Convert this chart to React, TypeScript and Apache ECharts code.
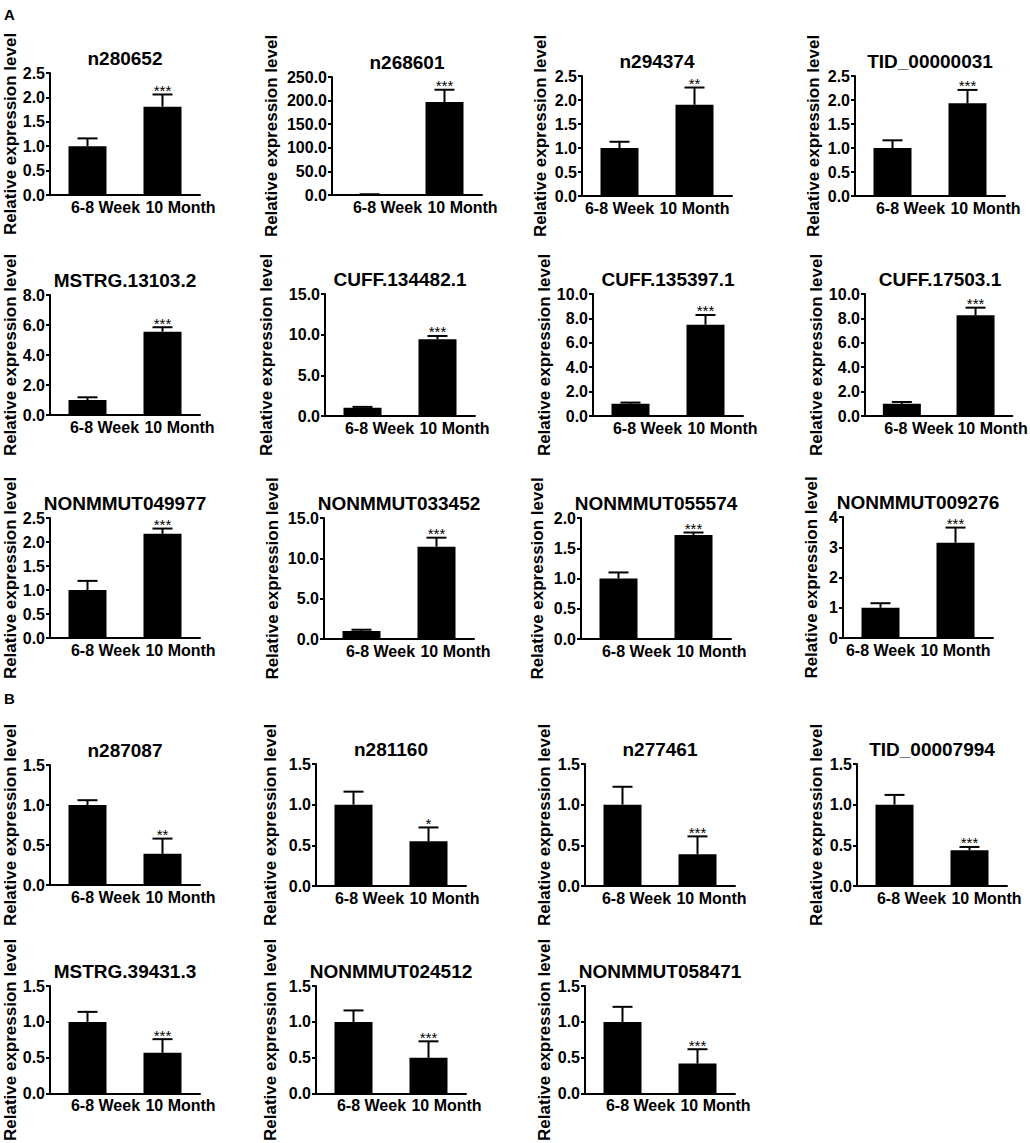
import React, { useEffect, useRef } from "react";
import * as echarts from "echarts";

// ---------- data ----------
const titles = [
  "n280652", "n268601", "n294374", "TID_00000031",
  "MSTRG.13103.2", "CUFF.134482.1", "CUFF.135397.1", "CUFF.17503.1",
  "NONMMUT049977", "NONMMUT033452", "NONMMUT055574", "NONMMUT009276",
  "n287087", "n281160", "n277461", "TID_00007994",
  "MSTRG.39431.3", "NONMMUT024512", "NONMMUT058471",
];
const categories = ["6-8 Week", "10 Month"];
const weekMeans = [1.0, 1.0, 1.0, 1.0, 1.0, 1.0, 1.0, 1.0, 1.0, 1.0, 1.0, 1.0, 1.0, 1.0, 1.0, 1.0, 1.0, 1.0, 1.0];
const weekErr = [0.16, 0.6, 0.13, 0.16, 0.18, 0.12, 0.1, 0.15, 0.19, 0.15, 0.1, 0.15, 0.06, 0.16, 0.22, 0.12, 0.14, 0.16, 0.21];
const monthMeans = [1.81, 197, 1.9, 1.93, 5.55, 9.43, 7.48, 8.25, 2.17, 11.44, 1.72, 3.15, 0.39, 0.55, 0.39, 0.44, 0.57, 0.5, 0.42];
const monthErr = [0.25, 26, 0.36, 0.28, 0.3, 0.41, 0.8, 0.63, 0.11, 1.12, 0.04, 0.5, 0.19, 0.17, 0.22, 0.04, 0.19, 0.23, 0.2];
const significance = [
  "***", "***", "**", "***",
  "***", "***", "***", "***",
  "***", "***", "***", "***",
  "**", "*", "***", "***",
  "***", "***", "***",
];
const yMax = [2.5, 250, 2.5, 2.5, 8, 15, 10, 10, 2.5, 15, 2, 4, 1.5, 1.5, 1.5, 1.5, 1.5, 1.5, 1.5];
const yStep = [0.5, 50, 0.5, 0.5, 2, 5, 2, 2, 0.5, 5, 0.5, 1, 0.5, 0.5, 0.5, 0.5, 0.5, 0.5, 0.5];
const yDecimals = [1, 1, 1, 1, 1, 1, 1, 1, 1, 1, 1, 0, 1, 1, 1, 1, 1, 1, 1];
const yAxisName = "Relative expression level";
const sectionLabels = ["A", "B"];

// ---------- layout ----------
const lefts = [50, 332, 582, 855, 50, 325, 593, 865, 50, 324, 581, 843, 50, 316, 585, 857, 50, 316, 585];
const tops = [73, 77, 76, 76, 295, 294, 294, 294, 518, 518, 518, 517, 765, 764, 764, 764, 986, 986, 986];
const bottoms = [195, 195, 196, 196, 415, 416, 416, 416, 638, 639, 639, 638, 885, 886, 886, 886, 1107, 1107, 1107];
const nameXs = [12, 272, 541, 814, 12, 267, 546, 817, 12, 273, 538, 812, 12, 271, 545, 817, 12, 271, 545];
const labelShift = [18, 18, 0, 18, 17, 17, 17, 17, 18, 19, 18, 0, 18, 16, 14, 17, 18, 18, 18];
const sectionPos = [[4, 7], [4, 691]];
const PLOT_W = 150;
const BAR_W = 38;
const FONT = '"Liberation Sans", Arial, Helvetica, sans-serif';

function buildOption() {
  const grid: any[] = [];
  const xAxis: any[] = [];
  const yAxis: any[] = [];
  const series: any[] = [];
  const graphic: any[] = [];

  titles.forEach((title, i) => {
    const h = bottoms[i] - tops[i];
    grid.push({ left: lefts[i], top: tops[i], width: PLOT_W, height: h, containLabel: false });
    xAxis.push({
      type: "category",
      gridIndex: i,
      data: categories,
      axisLine: { show: true, lineStyle: { color: "#000", width: 2 } },
      axisTick: { show: false },
      axisLabel: {
        interval: 0,
        color: "#000",
        fontWeight: "bold",
        fontSize: 16,
        fontFamily: FONT,
        margin: 4,
        padding: [0, 0, 0, labelShift[i] * 2],
      },
      splitLine: { show: false },
    });
    yAxis.push({
      type: "value",
      gridIndex: i,
      min: 0,
      max: yMax[i],
      interval: yStep[i],
      axisLine: { show: true, lineStyle: { color: "#000", width: 2 } },
      axisTick: { show: true, length: 4, lineStyle: { color: "#000", width: 2 } },
      splitLine: { show: false },
      axisLabel: {
        color: "#000",
        fontWeight: "bold",
        fontSize: 16,
        fontFamily: FONT,
        margin: 5,
        formatter: (v: number) => v.toFixed(yDecimals[i]),
      },
      name: yAxisName,
      nameLocation: "middle",
      nameGap: lefts[i] - nameXs[i] - 8,
      nameTextStyle: { color: "#000", fontWeight: "bold", fontSize: 17, fontFamily: FONT },
    });
    series.push({
      type: "bar",
      xAxisIndex: i,
      yAxisIndex: i,
      barWidth: BAR_W,
      data: [weekMeans[i], monthMeans[i]],
      itemStyle: { color: "#000" },
      silent: true,
    });
    const sig = significance[i];
    series.push({
      type: "custom",
      xAxisIndex: i,
      yAxisIndex: i,
      z: 5,
      silent: true,
      clip: false,
      encode: { x: 0, y: 1 },
      data: [
        [0, weekMeans[i], weekErr[i]],
        [1, monthMeans[i], monthErr[i]],
      ],
      renderItem: (params: any, api: any) => {
        const x = api.value(0);
        const v = api.value(1);
        const e = api.value(2);
        const base = api.coord([x, v]);
        const top = api.coord([x, v + e]);
        const cap = 10;
        const children: any[] = [
          { type: "line", shape: { x1: base[0], y1: base[1], x2: top[0], y2: top[1] }, style: { stroke: "#000", lineWidth: 2 } },
          { type: "line", shape: { x1: top[0] - cap, y1: top[1], x2: top[0] + cap, y2: top[1] }, style: { stroke: "#000", lineWidth: 2 } },
        ];
        if (params.dataIndex === 1 && sig) {
          children.push({
            type: "text",
            x: top[0],
            y: top[1] - 4,
            style: { text: sig, fill: "#000", font: `15px ${FONT}`, align: "center", verticalAlign: "middle" },
          });
        }
        return { type: "group", children };
      },
    });
    graphic.push({
      type: "text",
      x: lefts[i] + PLOT_W / 2,
      y: tops[i] - 15,
      style: {
        text: title,
        fill: "#000",
        font: `bold 19px ${FONT}`,
        align: "center",
        verticalAlign: "middle",
      },
    });
  });

  sectionLabels.forEach((s, k) => {
    graphic.push({
      type: "text",
      x: sectionPos[k][0],
      y: sectionPos[k][1],
      style: { text: s, fill: "#000", font: `bold 15px ${FONT}`, align: "left", verticalAlign: "top" },
    });
  });

  return {
    animation: false,
    backgroundColor: "#fff",
    grid,
    xAxis,
    yAxis,
    series,
    graphic,
  };
}

export default function App() {
  const ref = useRef<HTMLDivElement>(null);
  useEffect(() => {
    const chart = echarts.init(ref.current!, null, { renderer: "svg" });
    chart.setOption(buildOption() as any);
    return () => chart.dispose();
  }, []);
  return (
    <div
      ref={ref}
      style={{ position: "absolute", left: 0, top: 0, width: 1030, height: 1143, background: "#fff" }}
    />
  );
}
